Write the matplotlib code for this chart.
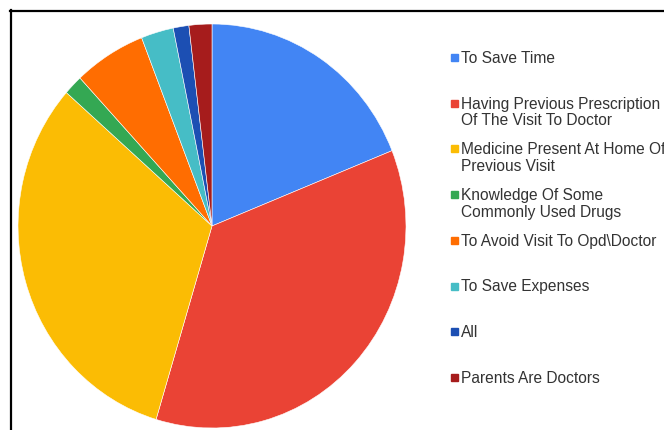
import matplotlib
matplotlib.use("Agg")
import matplotlib.pyplot as plt
from matplotlib.lines import Line2D
from matplotlib.patches import Rectangle

labels = [
    "To Save Time",
    "Having Previous Prescription\nOf The Visit To Doctor",
    "Medicine Present At Home Of\nPrevious Visit",
    "Knowledge Of Some\nCommonly Used Drugs",
    "To Avoid Visit To Opd\\Doctor",
    "To Save Expenses",
    "All",
    "Parents Are Doctors",
]
shares = [18.9, 35.7, 31.8, 1.6, 6.0, 2.7, 1.3, 1.9]
colors = ["#4285f4", "#ea4335", "#fbbc04", "#34a853",
          "#ff6d01", "#46bdc6", "#1c4fb3", "#a61c1c"]

W, H = 664, 430
fig = plt.figure(figsize=(W / 100, H / 100), dpi=100)
plt.rcParams['font.family'] = ['Liberation Sans', 'DejaVu Sans']

# pie area, slightly taller than wide like the source image
ax = fig.add_axes([18 / W, (H - 428) / H, 388 / W, 404 / H])
ax.pie(shares, colors=colors, startangle=90, counterclock=False,
       wedgeprops=dict(edgecolor="white", linewidth=0.4))
ax.set_aspect("auto")
ax.set_xlim(-1, 1)
ax.set_ylim(-1, 1)
ax.axis("off")

# legend drawn by hand
y0, step = 57, 45.7
for i, (lab, c) in enumerate(zip(labels, colors)):
    y = y0 + i * step
    fig.patches.append(Rectangle((451 / W, 1 - (y + 4) / H), 7 / W, 7 / H,
                                 transform=fig.transFigure, color=c))
    fig.text(461 / W, 1 - (y - 6) / H, lab, fontsize=11.2, color="#333333",
             va="top", ha="left", linespacing=1.12)

# frame lines at the top and left edges
fig.add_artist(Line2D([10 / W, 1], [1 - 11 / H, 1 - 11 / H], color="black", lw=1.6))
fig.add_artist(Line2D([11 / W, 11 / W], [0, 1 - 10 / H], color="black", lw=1.6))

fig.savefig("out.png", dpi=100)
